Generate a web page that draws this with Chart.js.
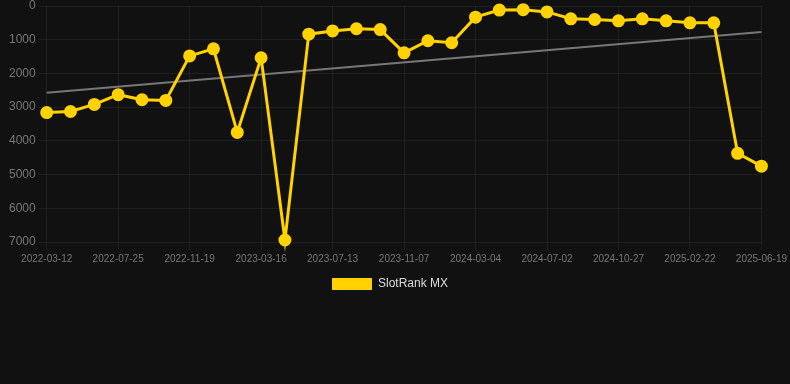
<!DOCTYPE html>
<html>
<head>
<meta charset="utf-8">
<script src="https://cdn.jsdelivr.net/npm/chart.js@4"></script>
<style>
html,body{margin:0;padding:0;background:#111111;}
#wrap{width:790px;height:300px;position:relative;}
</style>
</head>
<body>
<div id="wrap"><canvas id="c"></canvas></div>
<script>
const categories = [
"2022-03-12","2022-04-25","2022-06-09","2022-07-25","2022-09-02","2022-10-11",
"2022-11-19","2022-12-28","2023-02-05","2023-03-16","2023-04-24","2023-06-03",
"2023-07-13","2023-08-21","2023-09-29","2023-11-07","2023-12-17","2024-01-25",
"2024-03-04","2024-04-13","2024-05-23","2024-07-02","2024-08-09","2024-09-18",
"2024-10-27","2024-12-05","2025-01-13","2025-02-22","2025-04-01","2025-05-11",
"2025-06-19"
];
const rankValues = [
3160,3130,2920,2630,2780,2800,1480,1270,3750,1535,6940,835,
740,675,700,1390,1030,1090,330,120,110,175,380,400,
440,380,440,500,500,4370,4750
];
const trendValues = [2570].concat(new Array(29).fill(null)).concat([770]);
const yTicks = [0,1000,2000,3000,4000,5000,6000,7000];

new Chart(document.getElementById('c'), {
  type: 'line',
  data: {
    labels: categories,
    datasets: [
      {
        label: 'SlotRank MX',
        data: rankValues,
        borderColor: '#FFD200',
        backgroundColor: '#FFD200',
        borderWidth: 3,
        pointRadius: 5,
        pointHoverRadius: 5,
        pointBackgroundColor: '#FFD200',
        pointBorderColor: '#FFD200',
        tension: 0,
        clip: false,
        order: 1
      },
      {
        label: 'trend',
        data: trendValues,
        borderColor: '#777777',
        borderWidth: 2,
        pointRadius: 0,
        spanGaps: true,
        clip: false,
        order: 2
      }
    ]
  },
  options: {
    responsive: true,
    maintainAspectRatio: false,
    animation: false,
    layout: { autoPadding: false, padding: { top: 0, left: 6, right: 16, bottom: 0 } },
    plugins: {
      legend: {
        position: 'bottom',
        labels: {
          color: '#dddddd',
          boxWidth: 40,
          boxHeight: 12,
          font: { family: 'Arial, Liberation Sans, sans-serif', size: 12 },
          filter: (item) => item.text === 'SlotRank MX',
          generateLabels: (chart) => Chart.defaults.plugins.legend.labels.generateLabels(chart).map(l => Object.assign(l, { lineWidth: 0 }))
        }
      },
      tooltip: { enabled: false }
    },
    scales: {
      x: {
        type: 'category',
        offset: false,
        grid: { color: 'rgba(255,255,255,0.06)', drawTicks: true, tickLength: 8 },
        border: { display: false },
        ticks: {
          color: '#777777',
          autoSkip: false,
          maxRotation: 0,
          padding: 3,
          font: { family: 'Arial, Liberation Sans, sans-serif', size: 10 },
          callback: function(v, i) { return i % 3 === 0 ? categories[i] : null; }
        }
      },
      y: {
        reverse: true,
        min: 0,
        max: 7000,
        afterBuildTicks: (axis) => { axis.ticks = yTicks.map(v => ({ value: v })); },
        grid: { color: 'rgba(255,255,255,0.06)', drawTicks: true, tickLength: 8 },
        border: { display: false },
        ticks: {
          color: '#777777',
          padding: 3,
          font: { family: 'Arial, Liberation Sans, sans-serif', size: 12, lineHeight: 0.5 },
          callback: (v) => String(v)
        }
      }
    }
  }
});
</script>
</body>
</html>
